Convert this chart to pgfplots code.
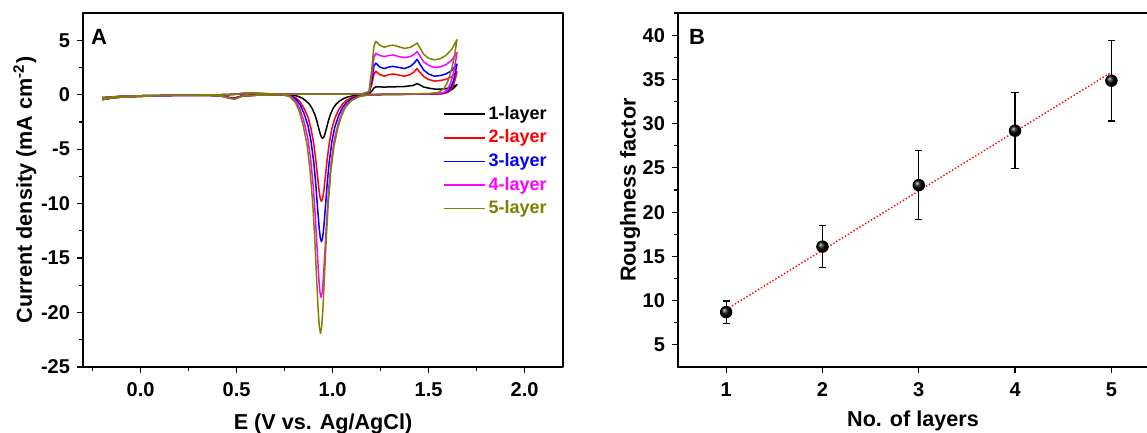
\documentclass[border=0pt]{standalone}
\usepackage{pgfplots}
\pgfplotsset{compat=1.18}
\usepackage{fontspec}
\setmainfont{Liberation Sans}
\definecolor{olv}{RGB}{128,128,0}
\definecolor{mag}{RGB}{255,0,255}
\definecolor{blu}{RGB}{0,0,255}
\definecolor{rd}{RGB}{255,0,0}
\pgfdeclareplotmark{myball}{\shade[ball color=black] (0pt,0pt) circle (\pgfplotmarksize);}
\newcommand{\tickfont}{\bfseries\fontsize{10}{12}\selectfont}
\newcommand{\labfont}{\bfseries\fontsize{10.8}{13}\selectfont}
\pgfplotsset{
  common/.style={
    scale only axis,
    tick pos=left, tick align=outside,
    major tick length=3pt, minor tick length=2pt,
    every tick/.style={black, line width=0.6pt},
    axis line style={line width=0.75pt},
    ticklabel style={font=\tickfont},
    xticklabel style={yshift=-1.2pt},
    /pgf/number format/assume math mode=true,
    label style={font=\labfont},
  }
}
\begin{document}
\begin{tikzpicture}
\path[use as bounding box] (0,0) rectangle (573.5pt,216.5pt);
% ---------------- Panel A ----------------
\begin{axis}[common,
  at={(41.5pt,33pt)}, anchor=south west,
  width=240pt, height=177pt,
  xmin=-0.3, xmax=2.2, ymin=-25, ymax=7.5,
  xtick={0,0.5,1,1.5,2},
  minor xtick={-0.25,0.25,0.75,1.25,1.75},
  ytick={-25,-20,-15,-10,-5,0,5},
  minor ytick={-22.5,-17.5,-12.5,-7.5,-2.5,2.5},
  xticklabel style={/pgf/number format/.cd, fixed, fixed zerofill, precision=1},
  xlabel={E (V vs. Ag/AgCl)},
  ylabel={Current density (mA cm\textsuperscript{-2})},
  xlabel style={at={(axis description cs:0.5,0)}, anchor=base, yshift=-31.5pt},
  ylabel style={at={(axis description cs:-0.121,0.5)}, anchor=center},
  legend cell align=left,
  legend image code/.code={\draw[#1, line width=0.8pt] (0pt,0pt) -- (20.5pt,0pt);},
  legend style={at={(axis description cs:0.75,0.741)}, anchor=north west, draw=none, fill=none,
    font=\bfseries\fontsize{9}{10}\selectfont, row sep=2.8pt, inner sep=0pt,
    nodes={inner xsep=1.3pt, inner ysep=0.5pt}},
  line join=round,
]
% 1-layer
\addplot[black, line width=0.75pt] coordinates {
(-0.2,-0.45) (-0.15,-0.3) (-0.1,-0.22) (0,-0.15) (0.1,-0.1) (0.2,-0.06) (0.3,-0.03) (0.4,-0.01) (0.45,0.0) (0.5,0.05) (0.55,0.12) (0.6,0.1) (0.7,0.05) (0.8,0.04) (0.9,0.04) (1.0,0.04) (1.1,0.05) (1.15,0.05)
(1.19,0.1) (1.205,0.35) (1.215,0.6) (1.225,0.72) (1.27,0.7) (1.315,0.72) (1.375,0.75) (1.42,0.85) (1.44,1.02) (1.455,0.9) (1.475,0.7) (1.50,0.6) (1.53,0.52) (1.56,0.5) (1.59,0.55) (1.62,0.7) (1.648,0.92)
(1.63,0.6) (1.61,0.35) (1.58,0.15) (1.55,0.08) (1.45,0.05) (1.3,0.03)
(1.198,0) (1.148,-0.03) (1.108,-0.10) (1.078,-0.21) (1.058,-0.35) (1.038,-0.56) (1.018,-0.87) (1.003,-1.25) (0.988,-1.84) (0.978,-2.41) (0.968,-3.10) (0.960,-3.62) (0.954,-3.90) (0.948,-4.00) (0.942,-3.90) (0.936,-3.62) (0.928,-3.10) (0.918,-2.41) (0.908,-1.84) (0.893,-1.25) (0.878,-0.84) (0.858,-0.52) (0.838,-0.28) (0.818,-0.14) (0.788,-0.03) (0.748,0)
(0.7,-0.02) (0.6,-0.05) (0.53,-0.1) (0.49,-0.3) (0.46,-0.25) (0.42,-0.1) (0.35,-0.06) (0.2,-0.05) (0.0,-0.1) (-0.1,-0.15) (-0.2,-0.28)
};
\addlegendentry{1-layer}
% 2-layer
\addplot[rd, line width=0.75pt] coordinates {
(-0.2,-0.45) (-0.15,-0.3) (-0.1,-0.22) (0,-0.15) (0.1,-0.1) (0.2,-0.06) (0.3,-0.03) (0.4,-0.01) (0.45,0.0) (0.5,0.05) (0.55,0.13) (0.6,0.11) (0.7,0.05) (0.8,0.04) (0.9,0.04) (1.0,0.04) (1.1,0.05) (1.15,0.05)
(1.19,0.15) (1.205,1.0) (1.215,1.85) (1.225,2.15) (1.245,1.85) (1.27,1.7) (1.295,1.85) (1.315,1.9) (1.345,1.8) (1.375,1.7) (1.405,1.85) (1.425,2.1) (1.44,2.4) (1.455,2.05) (1.475,1.65) (1.50,1.4) (1.53,1.25) (1.56,1.3) (1.59,1.4) (1.62,1.65) (1.648,2.11)
(1.64,1.5) (1.63,0.9) (1.615,0.45) (1.60,0.2) (1.57,0.08) (1.5,0.05) (1.3,0.03)
(1.192,0) (1.142,-0.08) (1.102,-0.25) (1.072,-0.52) (1.052,-0.85) (1.032,-1.37) (1.012,-2.14) (0.997,-3.06) (0.982,-4.52) (0.972,-5.91) (0.962,-7.59) (0.954,-8.87) (0.948,-9.55) (0.942,-9.80) (0.936,-9.55) (0.930,-8.87) (0.922,-7.59) (0.912,-5.91) (0.902,-4.52) (0.887,-3.06) (0.872,-2.06) (0.852,-1.27) (0.832,-0.70) (0.812,-0.33) (0.782,-0.08) (0.742,0)
(0.7,-0.02) (0.6,-0.05) (0.53,-0.11) (0.49,-0.33) (0.46,-0.27) (0.42,-0.11) (0.35,-0.06) (0.2,-0.05) (0.0,-0.1) (-0.1,-0.15) (-0.2,-0.28)
};
\addlegendentry{\textcolor{rd}{2-layer}}
% 3-layer
\addplot[blu, line width=0.75pt] coordinates {
(-0.2,-0.45) (-0.15,-0.3) (-0.1,-0.22) (0,-0.15) (0.1,-0.1) (0.2,-0.06) (0.3,-0.03) (0.4,-0.01) (0.45,0.0) (0.5,0.05) (0.55,0.14) (0.6,0.12) (0.7,0.06) (0.8,0.04) (0.9,0.04) (1.0,0.04) (1.1,0.05) (1.15,0.05)
(1.19,0.2) (1.205,1.4) (1.215,2.6) (1.225,2.9) (1.245,2.55) (1.27,2.4) (1.295,2.55) (1.315,2.6) (1.345,2.5) (1.375,2.4) (1.405,2.6) (1.425,2.9) (1.44,3.25) (1.455,2.8) (1.475,2.25) (1.50,1.9) (1.53,1.7) (1.56,1.75) (1.59,1.9) (1.62,2.2) (1.648,2.81)
(1.64,2.1) (1.63,1.3) (1.615,0.65) (1.60,0.3) (1.57,0.12) (1.5,0.06) (1.3,0.03)
(1.192,0) (1.142,-0.11) (1.102,-0.34) (1.072,-0.72) (1.052,-1.17) (1.032,-1.89) (1.012,-2.94) (0.997,-4.21) (0.982,-6.22) (0.972,-8.14) (0.962,-10.45) (0.954,-12.22) (0.948,-13.15) (0.942,-13.5) (0.936,-13.15) (0.930,-12.22) (0.922,-10.45) (0.912,-8.14) (0.902,-6.22) (0.887,-4.21) (0.872,-2.84) (0.852,-1.76) (0.832,-0.96) (0.812,-0.46) (0.782,-0.11) (0.742,0)
(0.7,-0.02) (0.6,-0.05) (0.53,-0.12) (0.49,-0.36) (0.46,-0.29) (0.42,-0.12) (0.35,-0.06) (0.2,-0.05) (0.0,-0.1) (-0.1,-0.15) (-0.2,-0.28)
};
\addlegendentry{\textcolor{blu}{3-layer}}
% 4-layer
\addplot[mag, line width=0.75pt] coordinates {
(-0.2,-0.45) (-0.15,-0.3) (-0.1,-0.22) (0,-0.15) (0.1,-0.1) (0.2,-0.06) (0.3,-0.03) (0.4,-0.01) (0.45,0.0) (0.5,0.05) (0.55,0.15) (0.6,0.13) (0.7,0.06) (0.8,0.04) (0.9,0.04) (1.0,0.04) (1.1,0.05) (1.15,0.05)
(1.19,0.25) (1.205,1.9) (1.215,3.4) (1.225,3.8) (1.245,3.6) (1.27,3.5) (1.295,3.6) (1.315,3.65) (1.345,3.5) (1.375,3.4) (1.405,3.5) (1.425,3.7) (1.44,3.95) (1.455,3.55) (1.475,3.0) (1.50,2.7) (1.53,2.5) (1.56,2.55) (1.59,2.75) (1.62,3.15) (1.648,3.88)
(1.64,3.0) (1.63,2.0) (1.615,1.1) (1.60,0.5) (1.58,0.2) (1.55,0.1) (1.4,0.05) (1.3,0.03)
(1.190,0) (1.140,-0.15) (1.100,-0.47) (1.070,-0.99) (1.050,-1.62) (1.030,-2.60) (1.010,-4.05) (0.995,-5.80) (0.980,-8.57) (0.970,-11.22) (0.960,-14.40) (0.952,-16.83) (0.946,-18.12) (0.940,-18.6) (0.934,-18.12) (0.928,-16.83) (0.920,-14.40) (0.910,-11.22) (0.900,-8.57) (0.885,-5.80) (0.870,-3.91) (0.850,-2.42) (0.830,-1.32) (0.810,-0.63) (0.780,-0.15) (0.740,0)
(0.7,-0.02) (0.6,-0.05) (0.53,-0.12) (0.49,-0.38) (0.46,-0.3) (0.42,-0.12) (0.35,-0.06) (0.2,-0.05) (0.0,-0.1) (-0.1,-0.15) (-0.2,-0.28)
};
\addlegendentry{\textcolor{mag}{4-layer}}
% 5-layer
\addplot[olv, line width=0.75pt] coordinates {
(-0.2,-0.45) (-0.15,-0.3) (-0.1,-0.22) (0,-0.15) (0.1,-0.1) (0.2,-0.06) (0.3,-0.03) (0.4,-0.01) (0.45,0.0) (0.5,0.05) (0.55,0.16) (0.6,0.14) (0.7,0.06) (0.8,0.04) (0.9,0.04) (1.0,0.04) (1.1,0.05) (1.15,0.05)
(1.19,0.3) (1.205,2.5) (1.215,4.4) (1.225,4.9) (1.245,4.55) (1.27,4.35) (1.295,4.5) (1.315,4.55) (1.345,4.4) (1.375,4.25) (1.405,4.35) (1.425,4.55) (1.44,4.75) (1.455,4.3) (1.475,3.7) (1.50,3.35) (1.53,3.2) (1.56,3.3) (1.59,3.6) (1.62,4.15) (1.648,5.05)
(1.635,3.6) (1.62,2.3) (1.60,1.2) (1.58,0.55) (1.55,0.2) (1.50,0.1) (1.4,0.07) (1.3,0.05)
(1.187,0) (1.137,-0.18) (1.097,-0.55) (1.067,-1.16) (1.047,-1.91) (1.027,-3.07) (1.007,-4.77) (0.992,-6.83) (0.977,-10.10) (0.967,-13.21) (0.957,-16.95) (0.949,-19.82) (0.943,-21.33) (0.937,-21.9) (0.931,-21.33) (0.925,-19.82) (0.917,-16.95) (0.907,-13.21) (0.897,-10.10) (0.882,-6.83) (0.867,-4.60) (0.847,-2.85) (0.827,-1.55) (0.807,-0.74) (0.777,-0.18) (0.737,0)
(0.7,-0.02) (0.6,-0.05) (0.53,-0.13) (0.49,-0.42) (0.46,-0.32) (0.42,-0.12) (0.35,-0.06) (0.2,-0.05) (0.0,-0.1) (-0.1,-0.15) (-0.2,-0.28)
};
\addlegendentry{\textcolor{olv}{5-layer}}
\node[font=\bfseries\fontsize{11}{13}\selectfont] at (rel axis cs:0.0333,0.932) {A};
\end{axis}
% ---------------- Panel B ----------------
\begin{axis}[common,
  at={(339pt,33pt)}, anchor=south west,
  width=235pt, height=177pt,
  xmin=0.5, xmax=5.38, ymin=2.5, ymax=42.5,
  xtick={1,2,3,4,5},
  ytick={5,10,...,40},
  minor ytick={7.5,12.5,...,42.5},
  xlabel={No. of layers},
  ylabel={Roughness factor},
  xlabel style={at={(axis description cs:0.5,0)}, anchor=base, yshift=-30pt},
  ylabel style={at={(axis description cs:-0.102,0.5)}, anchor=center},
]
\addplot[red, densely dotted, line width=0.7pt] coordinates {(1,9.0) (5,35.8)};
\addplot[black, only marks, mark=myball, mark size=2.9pt,
  error bars/.cd, y dir=both, y explicit,
  error bar style={line width=0.6pt, black},
  error mark options={rotate=90, mark size=1.8pt, line width=0.6pt, black}]
  coordinates {
  (1,8.7) +- (0,1.25)
  (2,16.1) +- (0,2.4)
  (3,23.05) +- (0,3.9)
  (4,29.2) +- (0,4.3)
  (5,34.85) +- (0,4.55)
};
\node[font=\bfseries\fontsize{11}{13}\selectfont] at (rel axis cs:0.0405,0.932) {B};
\end{axis}
\end{tikzpicture}
\end{document}
